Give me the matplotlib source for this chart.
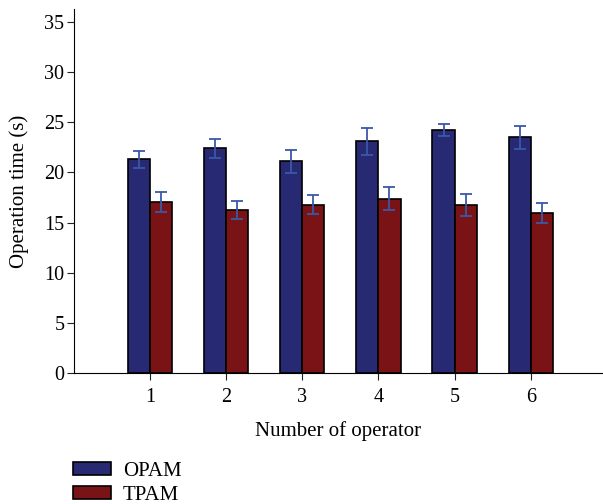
import numpy as np
import matplotlib
matplotlib.use("Agg")
import matplotlib.pyplot as plt

plt.rcParams['font.family'] = ['Liberation Serif', 'DejaVu Serif']

operators = [1, 2, 3, 4, 5, 6]
opam_mean = [21.3, 22.4, 21.1, 23.1, 24.2, 23.5]
opam_err = [0.85, 0.95, 1.15, 1.35, 0.6, 1.15]
tpam_mean = [17.1, 16.3, 16.8, 17.4, 16.8, 16.0]
tpam_err = [1.0, 0.9, 0.95, 1.15, 1.1, 1.0]

x = np.array(operators)
w = 0.29

fig = plt.figure(figsize=(6.03, 5.04), dpi=100)
ax = fig.add_axes([0.1227, 0.26, 0.8773, 0.722])

ax.bar(x - w / 2, opam_mean, w, color='#272a72', edgecolor='black', linewidth=1.2,
       label='OPAM', zorder=2)
ax.bar(x + w / 2, tpam_mean, w, color='#7a1315', edgecolor='black', linewidth=1.2,
       label='TPAM', zorder=2)
ax.errorbar(x - w / 2, opam_mean, yerr=opam_err, fmt='none', ecolor='#3a58a8',
            elinewidth=1.3, capsize=4, capthick=1.3, zorder=3)
ax.errorbar(x + w / 2, tpam_mean, yerr=tpam_err, fmt='none', ecolor='#3a58a8',
            elinewidth=1.3, capsize=4, capthick=1.3, zorder=3)

ax.set_xlim(0, 6.95)
ax.set_ylim(0, 36.3)
ax.set_xticks(operators)
ax.set_yticks(range(0, 36, 5))
ax.spines['top'].set_visible(False)
ax.spines['right'].set_visible(False)
ax.tick_params(labelsize=14.5, direction='out', length=5, pad=2, color='#222222')
ax.tick_params(axis='x', pad=6)
ax.set_xlabel('Number of operator', fontsize=15, labelpad=10)
ax.set_ylabel('Operation time (s)', fontsize=15, labelpad=11)

fig.legend(*ax.get_legend_handles_labels(), loc='upper left',
           bbox_to_anchor=(73 / 603, 1 - 462 / 504), frameon=False,
           fontsize=15, handlelength=1.8, handleheight=0.58, labelspacing=0.25,
           handletextpad=0.6, borderpad=0, borderaxespad=0)

fig.savefig('out.png', dpi=100)
